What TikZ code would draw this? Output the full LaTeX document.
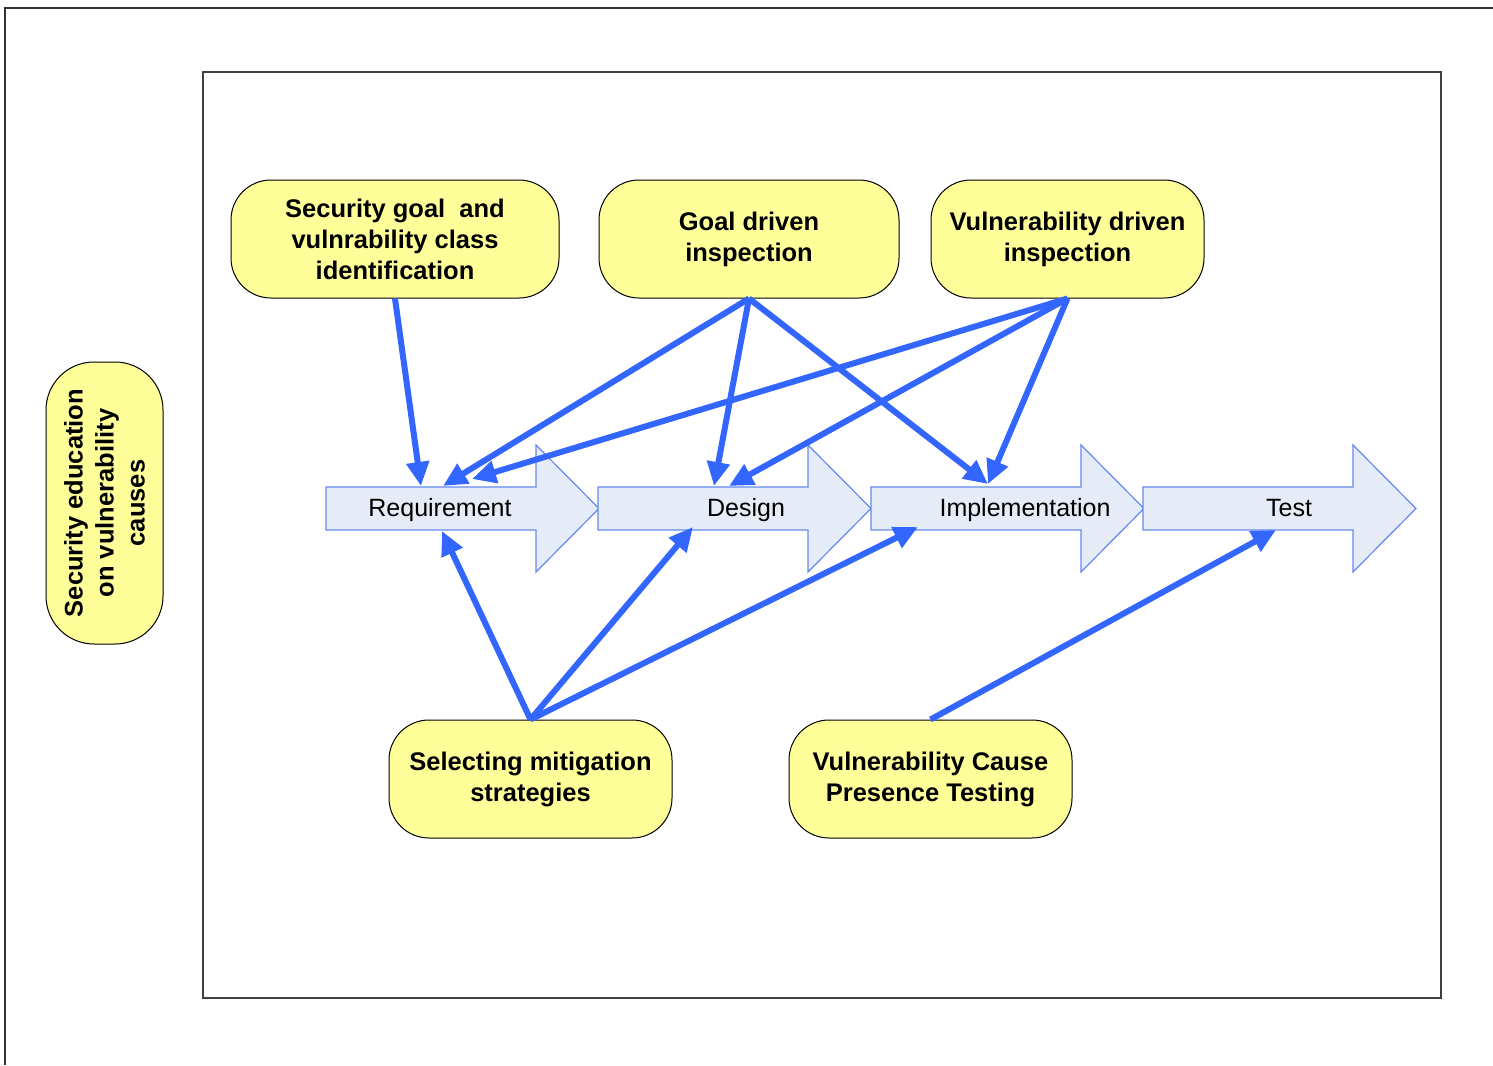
\documentclass[tikz,border=0pt]{standalone}
\usepackage{fontspec}
\setmainfont{Liberation Sans}
\usetikzlibrary{arrows.meta}
\definecolor{yel}{HTML}{FFFF99}
\definecolor{procfill}{HTML}{E6ECF7}
\definecolor{procline}{HTML}{6688EE}
\definecolor{conn}{HTML}{3366FF}
\tikzset{
  yellownode/.style={draw=black, line width=0.5pt, fill=yel, rounded corners=20pt, align=center,
    font=\fontsize{12.75}{15.5}\selectfont\bfseries, inner sep=2pt},
  procshape/.style={draw=procline, line width=0.6pt, fill=procfill},
  proclabel/.style={font=\fontsize{12.5}{15}\selectfont, inner sep=0pt, anchor=base},
  connector/.style={draw=conn, line width=3pt, -{Triangle[length=12pt,width=11pt]}},
  frameline/.style={draw=black!75, line width=0.8pt}
}
\begin{document}
\begin{tikzpicture}[x=0.5pt,y=-0.5pt]
\useasboundingbox (0,0) rectangle (1493,1065);
% outer lines
\draw[draw=black!80, line width=1pt] (4.5,1065) -- (4.5,8.5) -- (1493,8.5);
% inner frame
\draw[frameline] (203,72) rectangle (1441,998);

% process arrows
\foreach \x/\t/\tx/\nm in {326/Requirement/440/req, 598/Design/746/des, 871/Implementation/1025/imp, 1143/Test/1289/tst}{
  \draw[procshape] (\x,487) -- ({\x+210},487) -- ({\x+210},445) -- ({\x+273},508.5)
     -- ({\x+210},572) -- ({\x+210},530) -- (\x,530) -- cycle;
  \node[proclabel] (\nm) at (\tx,516.5) {\t};
}

% yellow nodes
\node[yellownode, minimum width=164pt, minimum height=59pt] (sg) at (395,239)
  {Security goal \ and\\vulnrability class\\identification};
\node[yellownode, minimum width=150pt, minimum height=59pt] (gd) at (749,239)
  {Goal driven\\inspection};
\node[yellownode, minimum width=136.5pt, minimum height=59pt] (vd) at (1067.5,239)
  {Vulnerability driven\\inspection};
\node[yellownode, minimum width=141.5pt, minimum height=59pt] (sm) at (530.5,779)
  {Selecting mitigation\\strategies};
\node[yellownode, minimum width=141.5pt, minimum height=59pt] (vc) at (930.5,779)
  {Vulnerability Cause\\Presence Testing};
\node[yellownode, rotate=90, minimum width=141pt, minimum height=58.5pt, rounded corners=24pt] (edu) at (104.5,503)
  {Security education\\on vulnerability\\causes};

% connector end points
\coordinate (rq1) at (421,486);
\coordinate (rq2) at (443,486);
\coordinate (rq3) at (472,479);
\coordinate (rq4) at (442,531);
\coordinate (ds1) at (714,486);
\coordinate (ds2) at (729,486);
\coordinate (ds3) at (693,527);
\coordinate (im1) at (988,484);
\coordinate (im2) at (918,527);
\coordinate (ts1) at (1276,530);

% connectors
\draw[connector] (sg.south) -- (rq1);
\draw[connector] (gd.south) -- (rq2);
\draw[connector] (gd.south) -- (ds1);
\draw[connector] (gd.south) -- (im1);
\draw[connector] (vd.south) -- (rq3);
\draw[connector] (vd.south) -- (ds2);
\draw[connector] (vd.south) -- (im1);
\draw[connector] (sm.north) -- (rq4);
\draw[connector] (sm.north) -- (ds3);
\draw[connector] (sm.north) -- (im2);
\draw[connector] (vc.north) -- (ts1);
\end{tikzpicture}
\end{document}
